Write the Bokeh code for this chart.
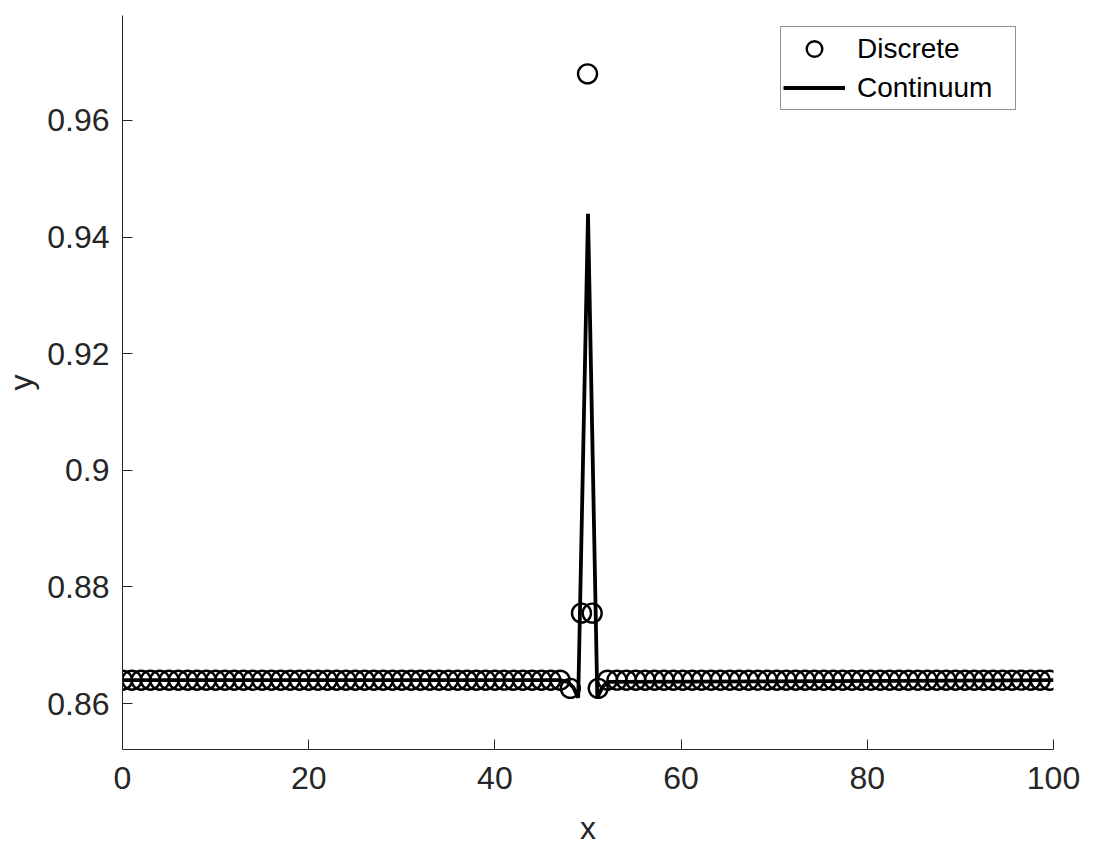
from bokeh.plotting import figure
from bokeh.models import Range1d, Legend, LegendItem, FixedTicker
from bokeh.embed import file_html
from bokeh.resources import INLINE

# Discrete points
disc_x_left = list(range(0, 48))
disc_y_left = [0.864] * 48
disc_x_mid = [48.1, 49.3, 49.95, 50.45, 51.1]
disc_y_mid = [0.8626, 0.8755, 0.968, 0.8755, 0.8626]
disc_x_right = [52.1, 53.11, 54.12, 55.13, 56.14, 57.15, 58.16, 59.17, 60.18, 61.19,
                62.2, 63.21, 64.22, 65.23, 66.24, 67.25, 68.26, 69.27, 70.28, 71.29,
                72.3, 73.31, 74.32, 75.33, 76.34, 77.35, 78.36, 79.37, 80.38, 81.39,
                82.4, 83.41, 84.42, 85.43, 86.44, 87.45, 88.46, 89.47, 90.48, 91.49,
                92.5, 93.51, 94.52, 95.53, 96.54, 97.55, 98.56, 99.57]
disc_y_right = [0.864] * 48

disc_x = disc_x_left + disc_x_mid + disc_x_right
disc_y = disc_y_left + disc_y_mid + disc_y_right

# Continuum curve
cont_x = [0, 47.0, 47.8, 48.4, 48.95, 50.0, 51.0, 51.55, 52.1, 100]
cont_y = [0.864, 0.864, 0.8637, 0.8628, 0.861, 0.944, 0.861, 0.8628, 0.8637, 0.864]

x_ticks = [0, 20, 40, 60, 80, 100]
y_ticks = [0.86, 0.88, 0.9, 0.92, 0.94, 0.96]
y_tick_labels = ["0.86", "0.88", "0.9", "0.92", "0.94", "0.96"]

AX = "#262626"
FONT = "Liberation Sans"

p = figure(width=1097, height=858, output_backend="svg", toolbar_location=None,
           x_range=Range1d(0, 100), y_range=Range1d(0.85211, 0.97801),
           min_border_left=110, min_border_right=44, min_border_top=15,
           min_border_bottom=109)
p.outline_line_color = None
p.xgrid.visible = False
p.ygrid.visible = False
p.background_fill_color = "white"
p.border_fill_color = "white"

r_disc = p.scatter(disc_x, disc_y, marker="circle", size=19, fill_color=None,
                   line_color="black", line_width=2.4)
r_cont = p.line(cont_x, cont_y, line_color="black", line_width=3.8)

for ax in (p.xaxis[0], p.yaxis[0]):
    ax.axis_line_color = AX
    ax.axis_line_width = 1
    ax.major_tick_line_color = AX
    ax.major_tick_in = 10
    ax.major_tick_out = 0
    ax.minor_tick_line_color = None
    ax.major_label_text_font = FONT
    ax.major_label_text_font_size = "32px"
    ax.major_label_text_color = AX
    ax.axis_label_text_font = FONT
    ax.axis_label_text_font_size = "32px"
    ax.axis_label_text_font_style = "normal"
    ax.axis_label_text_color = AX

p.xaxis[0].ticker = FixedTicker(ticks=x_ticks)
p.yaxis[0].ticker = FixedTicker(ticks=y_ticks)
p.yaxis[0].major_label_overrides = {t: l for t, l in zip(y_ticks, y_tick_labels)}
p.xaxis[0].major_label_standoff = 17
p.yaxis[0].major_label_standoff = 13
p.xaxis[0].axis_label = "x"
p.yaxis[0].axis_label = "y"
p.xaxis[0].axis_label_standoff = 18
p.yaxis[0].axis_label_standoff = 5

legend = Legend(items=[LegendItem(label="Discrete", renderers=[r_disc]),
                       LegendItem(label="Continuum", renderers=[r_cont])],
                location=(658, 639))
legend.label_text_font = FONT
legend.label_text_font_size = "28px"
legend.label_text_color = "black"
legend.border_line_color = AX
legend.border_line_width = 1
legend.background_fill_color = "white"
legend.background_fill_alpha = 1
legend.padding = 2
legend.spacing = 0
legend.margin = 0
legend.label_height = 39
legend.glyph_height = 39
legend.glyph_width = 62
legend.label_standoff = 12
legend.label_width = 156
p.add_layout(legend)

open("out.html", "w").write(file_html(p, INLINE))
